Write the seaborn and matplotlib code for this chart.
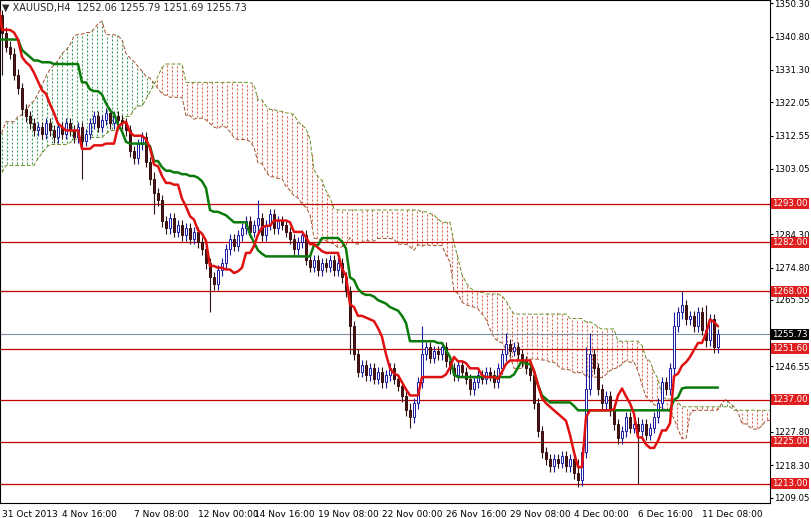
import numpy as np
import pandas as pd
import matplotlib
matplotlib.use("Agg")
import matplotlib.pyplot as plt
import seaborn as sns

# H4 closes before the visible window (only feed the Ichimoku cloud)
history = [1272, 1275, 1278, 1274, 1280, 1284, 1282, 1286, 1290, 1288,
           1292, 1296, 1300, 1305, 1310, 1316, 1318, 1314, 1317, 1320,
           1322, 1318, 1316, 1320, 1324, 1330, 1334, 1338, 1336, 1332,
           1328, 1326, 1330, 1334, 1338, 1342, 1345, 1348, 1350, 1347,
           1344, 1346, 1349, 1351, 1353, 1350, 1352, 1354, 1350, 1348,
           1349, 1347]
# H4 closes (bar by bar)
closes = [1342, 1338, 1336, 1330, 1326, 1320, 1318, 1316, 1314, 1315,
          1313, 1316, 1314, 1312, 1315, 1313, 1316, 1314, 1312, 1315,
          1311, 1313, 1316, 1318, 1315, 1317, 1319, 1316, 1318, 1317,
          1316, 1314, 1308, 1306, 1310, 1312, 1305, 1300, 1296, 1294,
          1288, 1286, 1289, 1285, 1287, 1284, 1286, 1283, 1285, 1282,
          1280, 1276, 1272, 1270, 1274, 1276, 1280, 1283, 1281, 1284,
          1286, 1288, 1285, 1287, 1289, 1284, 1287, 1290, 1286, 1288,
          1287, 1285, 1283, 1280, 1282, 1284, 1277, 1275, 1277, 1274,
          1276, 1275, 1277, 1274, 1276, 1272, 1268, 1258, 1250, 1245,
          1247, 1244, 1246, 1243, 1245, 1242, 1244, 1246, 1243, 1241,
          1238, 1234, 1232, 1236, 1242, 1250, 1252, 1249, 1251, 1250,
          1252, 1248, 1246, 1244, 1247, 1245, 1243, 1240, 1242, 1244,
          1243, 1245, 1244, 1242, 1246, 1250, 1253, 1251, 1252, 1250,
          1248, 1246, 1244, 1236, 1228, 1222, 1220, 1218, 1220, 1219,
          1221, 1218, 1220, 1216, 1214, 1222, 1240, 1250, 1246, 1240,
          1236, 1238, 1234, 1230, 1226, 1228, 1232, 1229, 1230, 1228,
          1230, 1227, 1229, 1232, 1236, 1242, 1240, 1246, 1258, 1262,
          1264, 1260, 1261, 1258, 1262, 1257, 1254, 1260, 1252, 1255.73]
# long wicks visible on the chart: bar -> (high, low)
long_wicks = {0: (1348, 1330), 20: (1316, 1300), 38: (1302, 1290), 52: (1276, 1262),
              64: (1294, 1284), 87: (1264, 1250), 102: (1236, 1229), 105: (1258, 1248),
              126: (1256, 1248), 144: (1220, 1212), 146: (1252, 1236), 147: (1256, 1244),
              159: (1232, 1213), 168: (1262, 1244), 170: (1268, 1260), 176: (1264, 1252)}

levels = [1293.00, 1282.00, 1268.00, 1251.60, 1237.00, 1225.00, 1213.00]
last_price = 1255.73
ytick_vals = [1350.30, 1340.80, 1331.30, 1322.05, 1312.55, 1303.05, 1284.30,
              1274.80, 1265.55, 1246.55, 1227.80, 1218.30, 1209.05]
xtick_pos = [0, 15, 33, 49, 63, 79, 95, 111, 127, 143, 159, 175]
xtick_labels = ["31 Oct 2013", "4 Nov 16:00", "7 Nov 08:00", "12 Nov 00:00", "14 Nov 16:00",
                "19 Nov 08:00", "22 Nov 00:00", "26 Nov 16:00", "29 Nov 08:00",
                "4 Dec 00:00", "6 Dec 16:00", "11 Dec 08:00"]

allc = history + closes
nh = len(history)
df = pd.DataFrame({"close": allc})
df["open"] = [allc[0] - 2] + allc[:-1]
df["high"] = df[["open", "close"]].max(axis=1) + 1.5
df["low"] = df[["open", "close"]].min(axis=1) - 1.5
for i, (h, l) in long_wicks.items():
    df.loc[nh + i, "high"] = max(h, df.loc[nh + i, "high"])
    df.loc[nh + i, "low"] = min(l, df.loc[nh + i, "low"])
df["bar"] = np.arange(len(allc)) - nh

# Ichimoku
tenkan = (df["high"].rolling(9, min_periods=1).max() + df["low"].rolling(9, min_periods=1).min()) / 2
kijun = (df["high"].rolling(26, min_periods=1).max() + df["low"].rolling(26, min_periods=1).min()) / 2
span_a = (tenkan + kijun) / 2
span_b = (df["high"].rolling(52, min_periods=1).max() + df["low"].rolling(52, min_periods=1).min()) / 2
cx = df["bar"].values + 26
sel = cx >= -5

sns.set_style("white")
plt.rcParams["font.family"] = ["DejaVu Sans"]
fig = plt.figure(figsize=(8.12, 5.18), dpi=100)
ax = fig.add_axes([0, 15 / 518, 770 / 812, 503 / 518])

# cloud: dotted columns between the two spans
a, b, x = span_a.values[sel], span_b.values[sel], cx[sel]
gx = np.arange(x[0], x[-1], 1.25)
ga = np.interp(gx, x, a)
gb = np.interp(gx, x, b)
dots = {"bull": ([], []), "bear": ([], [])}
for xi, ai, bi in zip(gx, ga, gb):
    key = "bull" if ai >= bi else "bear"
    ys = np.arange(min(ai, bi) + 0.6, max(ai, bi), 1.15)
    dots[key][0].extend([xi] * len(ys))
    dots[key][1].extend(ys)
ax.scatter(dots["bull"][0], dots["bull"][1], marker="|", s=4, lw=0.8, color="#3a9a5a", zorder=1)
ax.scatter(dots["bear"][0], dots["bear"][1], marker="|", s=4, lw=0.8, color="#d8604a", zorder=1)
ax.plot(x, a, color="#a0522d", lw=0.7, ls=(0, (4, 2)))
ax.plot(x, b, color="#6b8e23", lw=0.7, ls=(0, (4, 2)))

# candles
vis = df[df["bar"] >= 0]
for _, r in vis.iterrows():
    i = r["bar"]
    up = r["close"] >= r["open"]
    col = "#1a1aa0" if up else "#301010"
    ax.vlines(i, r["low"], r["high"], color=col, lw=0.8, zorder=3)
    lo, hi = min(r["open"], r["close"]), max(r["open"], r["close"])
    ax.add_patch(plt.Rectangle((i - 0.35, lo), 0.7, max(hi - lo, 0.3),
                               facecolor="white" if up else "#5a1010",
                               edgecolor=col, lw=0.7, zorder=4))

sns.lineplot(x=df["bar"][nh - 5:], y=kijun[nh - 5:], ax=ax, color="#0a7a0a", lw=1.8, zorder=5)
sns.lineplot(x=df["bar"][nh - 5:], y=tenkan[nh - 5:], ax=ax, color="#e01010", lw=1.8, zorder=6)

for lv in levels:
    ax.axhline(lv, color="#c00000", lw=0.9, zorder=2)
ax.axhline(last_price, color="#8090a0", lw=0.8, zorder=2)

ax.set_xlim(-0.5, 192)
ax.set_ylim(1207.5, 1351.3)
ax.yaxis.tick_right()
ax.set_yticks(ytick_vals)
ax.set_yticklabels([f"{v:.2f}" for v in ytick_vals], fontsize=6.2)
ax.set_xticks(xtick_pos)
ax.set_xticklabels(xtick_labels, fontsize=6.5, ha="left")
ax.tick_params(axis="y", length=2, pad=1, colors="black")
ax.tick_params(axis="x", length=3, pad=2, colors="black")
ax.set_xlabel("")
ax.set_ylabel("")
for s in ax.spines.values():
    s.set_color("black")
    s.set_linewidth(0.8)

for lv in levels:
    ax.text(1.003, lv, f"{lv:.2f}", transform=ax.get_yaxis_transform(), fontsize=6.2,
            color="white", va="center", ha="left",
            bbox=dict(boxstyle="square,pad=0.12", fc="#e02020", ec="none"), zorder=10)
ax.text(1.003, last_price, f"{last_price:.2f}", transform=ax.get_yaxis_transform(), fontsize=6.2,
        color="white", va="center", ha="left",
        bbox=dict(boxstyle="square,pad=0.12", fc="black", ec="none"), zorder=10)

ax.text(0.003, 0.995, "\u25bc XAUUSD,H4  1252.06 1255.79 1251.69 1255.73",
        transform=ax.transAxes, fontsize=7, va="top", ha="left", zorder=11)

fig.savefig("out.png", dpi=100)
